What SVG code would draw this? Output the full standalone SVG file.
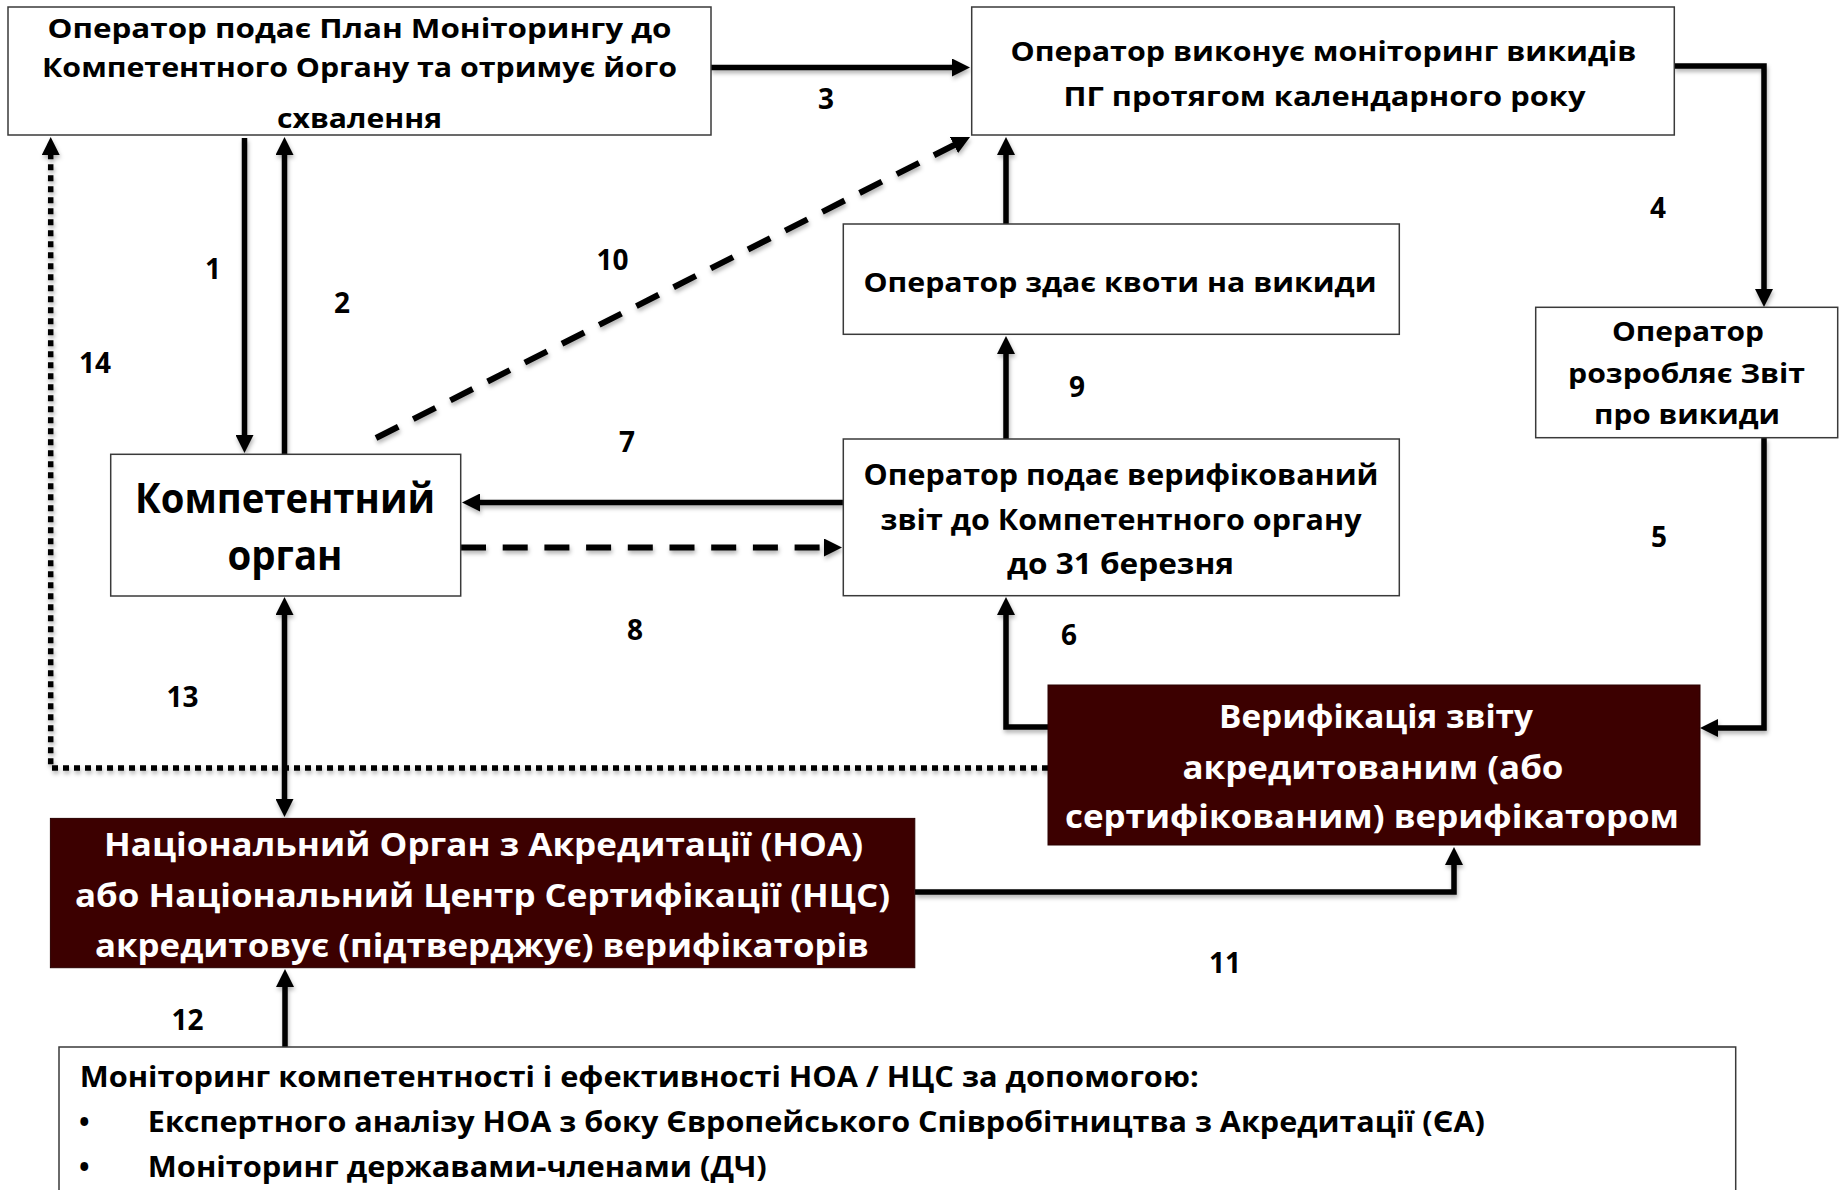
<svg xmlns="http://www.w3.org/2000/svg" width="1839" height="1190" viewBox="0 0 1839 1190">
<style>
.box{fill:#fff;stroke:#3a3a3a;stroke-width:1.5}
.dark{fill:#3c0000;stroke:#2a0000;stroke-width:1}
.t{font-family:"Open Sans","Noto Sans","Liberation Sans",sans-serif;font-weight:bold;fill:#000;text-anchor:middle}
.w{fill:#fff}
.l{text-anchor:start}
.num{font-family:"Open Sans","Noto Sans","Liberation Sans",sans-serif;font-weight:bold;font-size:28px;fill:#000;text-anchor:middle}
.c{fill:none;stroke:#000;stroke-width:5.5;stroke-linejoin:miter}
.dash{stroke-dasharray:25 16.7;stroke-width:6}
.dot{stroke-dasharray:6 5;stroke-width:5.5}
</style>
<defs>
<marker id="ah" markerUnits="userSpaceOnUse" markerWidth="18" markerHeight="18" viewBox="0 0 18 18" refX="10" refY="9" orient="auto-start-reverse"><path d="M0,0 L18,9 L0,18 z" fill="#000"/></marker>
<filter id="sh" x="-5%" y="-5%" width="110%" height="110%"><feDropShadow dx="1" dy="3" stdDeviation="2" flood-color="#000" flood-opacity="0.3"/></filter>
</defs>

<g id="connectors" filter="url(#sh)">
<path class="c dot" d="M1048,768 H50.7 V145" marker-end="url(#ah)"/>
<path class="c" d="M244.5,138 V445" marker-end="url(#ah)"/>
<path class="c" d="M284.5,454 V145" marker-end="url(#ah)"/>
<path class="c" d="M711,67.5 H962" marker-end="url(#ah)"/>
<path class="c" d="M1674,66 H1764 V299" marker-end="url(#ah)"/>
<path class="c" d="M1764,438 V728 H1708" marker-end="url(#ah)"/>
<path class="c" d="M1048,727 H1006 V605" marker-end="url(#ah)"/>
<path class="c" d="M843,502.5 H470" marker-end="url(#ah)"/>
<path class="c dash" d="M461,547.5 H834" marker-end="url(#ah)"/>
<path class="c" d="M1006,439 V344" marker-end="url(#ah)"/>
<path class="c" d="M1006,224 V145" marker-end="url(#ah)"/>
<path class="c dash" d="M376,438 L962.9,140.6" marker-end="url(#ah)"/>
<path class="c" d="M915,892 H1454 V855" marker-end="url(#ah)"/>
<path class="c" d="M285,1047 V977" marker-end="url(#ah)"/>
<path class="c" d="M284.5,605 V809" marker-start="url(#ah)" marker-end="url(#ah)"/>
</g>

<g id="labels">
<text class="num" x="213" y="279">1</text>
<text class="num" x="342" y="313">2</text>
<text class="num" x="826" y="109">3</text>
<text class="num" x="1658" y="218">4</text>
<text class="num" x="1659" y="547">5</text>
<text class="num" x="1069" y="645">6</text>
<text class="num" x="627" y="452">7</text>
<text class="num" x="635" y="640">8</text>
<text class="num" x="1077" y="397">9</text>
<text class="num" x="612.5" y="270">10</text>
<text class="num" x="1225" y="973">11</text>
<text class="num" x="187.6" y="1030">12</text>
<text class="num" x="182.5" y="707">13</text>
<text class="num" x="95" y="373">14</text>
</g>

<g id="node-plan">
<rect class="box" x="8" y="7" width="703" height="128"/>
<text class="t" font-size="26" x="359.5" y="38" textLength="624" lengthAdjust="spacingAndGlyphs">Оператор подає План Моніторингу до</text>
<text class="t" font-size="26" x="359.5" y="77" textLength="635" lengthAdjust="spacingAndGlyphs">Компетентного Органу та отримує його</text>
<text class="t" font-size="26" x="359.5" y="128" textLength="165" lengthAdjust="spacingAndGlyphs">схвалення</text>
</g>

<g id="node-monitoring">
<rect class="box" x="971.7" y="7" width="702.6" height="128"/>
<text class="t" font-size="27" x="1323.5" y="61" textLength="626" lengthAdjust="spacingAndGlyphs">Оператор виконує моніторинг викидів</text>
<text class="t" font-size="27" x="1324.5" y="106" textLength="522" lengthAdjust="spacingAndGlyphs">ПГ протягом календарного року</text>
</g>

<g id="node-quotas">
<rect class="box" x="843.3" y="224" width="556" height="110.3"/>
<text class="t" font-size="27" x="1120" y="291.7" textLength="513" lengthAdjust="spacingAndGlyphs">Оператор здає квоти на викиди</text>
</g>

<g id="node-report">
<rect class="box" x="1535.7" y="307.3" width="302" height="130.4"/>
<text class="t" font-size="27" x="1688" y="341" textLength="152" lengthAdjust="spacingAndGlyphs">Оператор</text>
<text class="t" font-size="27" x="1686.5" y="383" textLength="237" lengthAdjust="spacingAndGlyphs">розробляє Звіт</text>
<text class="t" font-size="27" x="1687" y="424" textLength="186" lengthAdjust="spacingAndGlyphs">про викиди</text>
</g>

<g id="node-submit">
<rect class="box" x="843.3" y="439" width="556" height="156.7"/>
<text class="t" font-size="28" x="1121" y="485" textLength="515" lengthAdjust="spacingAndGlyphs">Оператор подає верифікований</text>
<text class="t" font-size="28" x="1121" y="530" textLength="481" lengthAdjust="spacingAndGlyphs">звіт до Компетентного органу</text>
<text class="t" font-size="28" x="1120.5" y="574" textLength="227" lengthAdjust="spacingAndGlyphs">до 31 березня</text>
</g>

<g id="node-authority">
<rect class="box" x="110.7" y="454.3" width="350" height="141.7"/>
<text class="t" font-size="41" x="285" y="513" textLength="300" lengthAdjust="spacingAndGlyphs">Компетентний</text>
<text class="t" font-size="41" x="285" y="570" textLength="115" lengthAdjust="spacingAndGlyphs">орган</text>
</g>

<g id="node-verification">
<rect class="dark" x="1048" y="685" width="652" height="160"/>
<text class="t w" font-size="32" x="1376" y="728" textLength="314" lengthAdjust="spacingAndGlyphs">Верифікація звіту</text>
<text class="t w" font-size="32" x="1373" y="779" textLength="381" lengthAdjust="spacingAndGlyphs">акредитованим (або</text>
<text class="t w" font-size="32" x="1372" y="828" textLength="614" lengthAdjust="spacingAndGlyphs">сертифікованим) верифікатором</text>
</g>

<g id="node-accreditation">
<rect class="dark" x="50.4" y="818.4" width="864.4" height="149.3"/>
<text class="t w" font-size="32" x="483.5" y="856" textLength="759" lengthAdjust="spacingAndGlyphs">Національний Орган з Акредитації (НОА)</text>
<text class="t w" font-size="32" x="482.5" y="907" textLength="815" lengthAdjust="spacingAndGlyphs">або Національний Центр Сертифікації (НЦС)</text>
<text class="t w" font-size="32" x="482" y="957" textLength="774" lengthAdjust="spacingAndGlyphs">акредитовує (підтверджує) верифікаторів</text>
</g>

<g id="node-monitoring-noa">
<rect class="box" x="59" y="1047" width="1676.7" height="160"/>
<text class="t l" font-size="28" x="79.7" y="1086.7" textLength="1119" lengthAdjust="spacingAndGlyphs">Моніторинг компетентності і ефективності НОА / НЦС за допомогою:</text>
<text class="t l" font-size="28" x="79" y="1132">•</text>
<text class="t l" font-size="28" x="147.8" y="1132" textLength="1337" lengthAdjust="spacingAndGlyphs">Експертного аналізу НОА з боку Європейського Співробітництва з Акредитації (ЄА)</text>
<text class="t l" font-size="28" x="79" y="1177">•</text>
<text class="t l" font-size="28" x="147.8" y="1177" textLength="619" lengthAdjust="spacingAndGlyphs">Моніторинг державами-членами (ДЧ)</text>
</g>
</svg>
